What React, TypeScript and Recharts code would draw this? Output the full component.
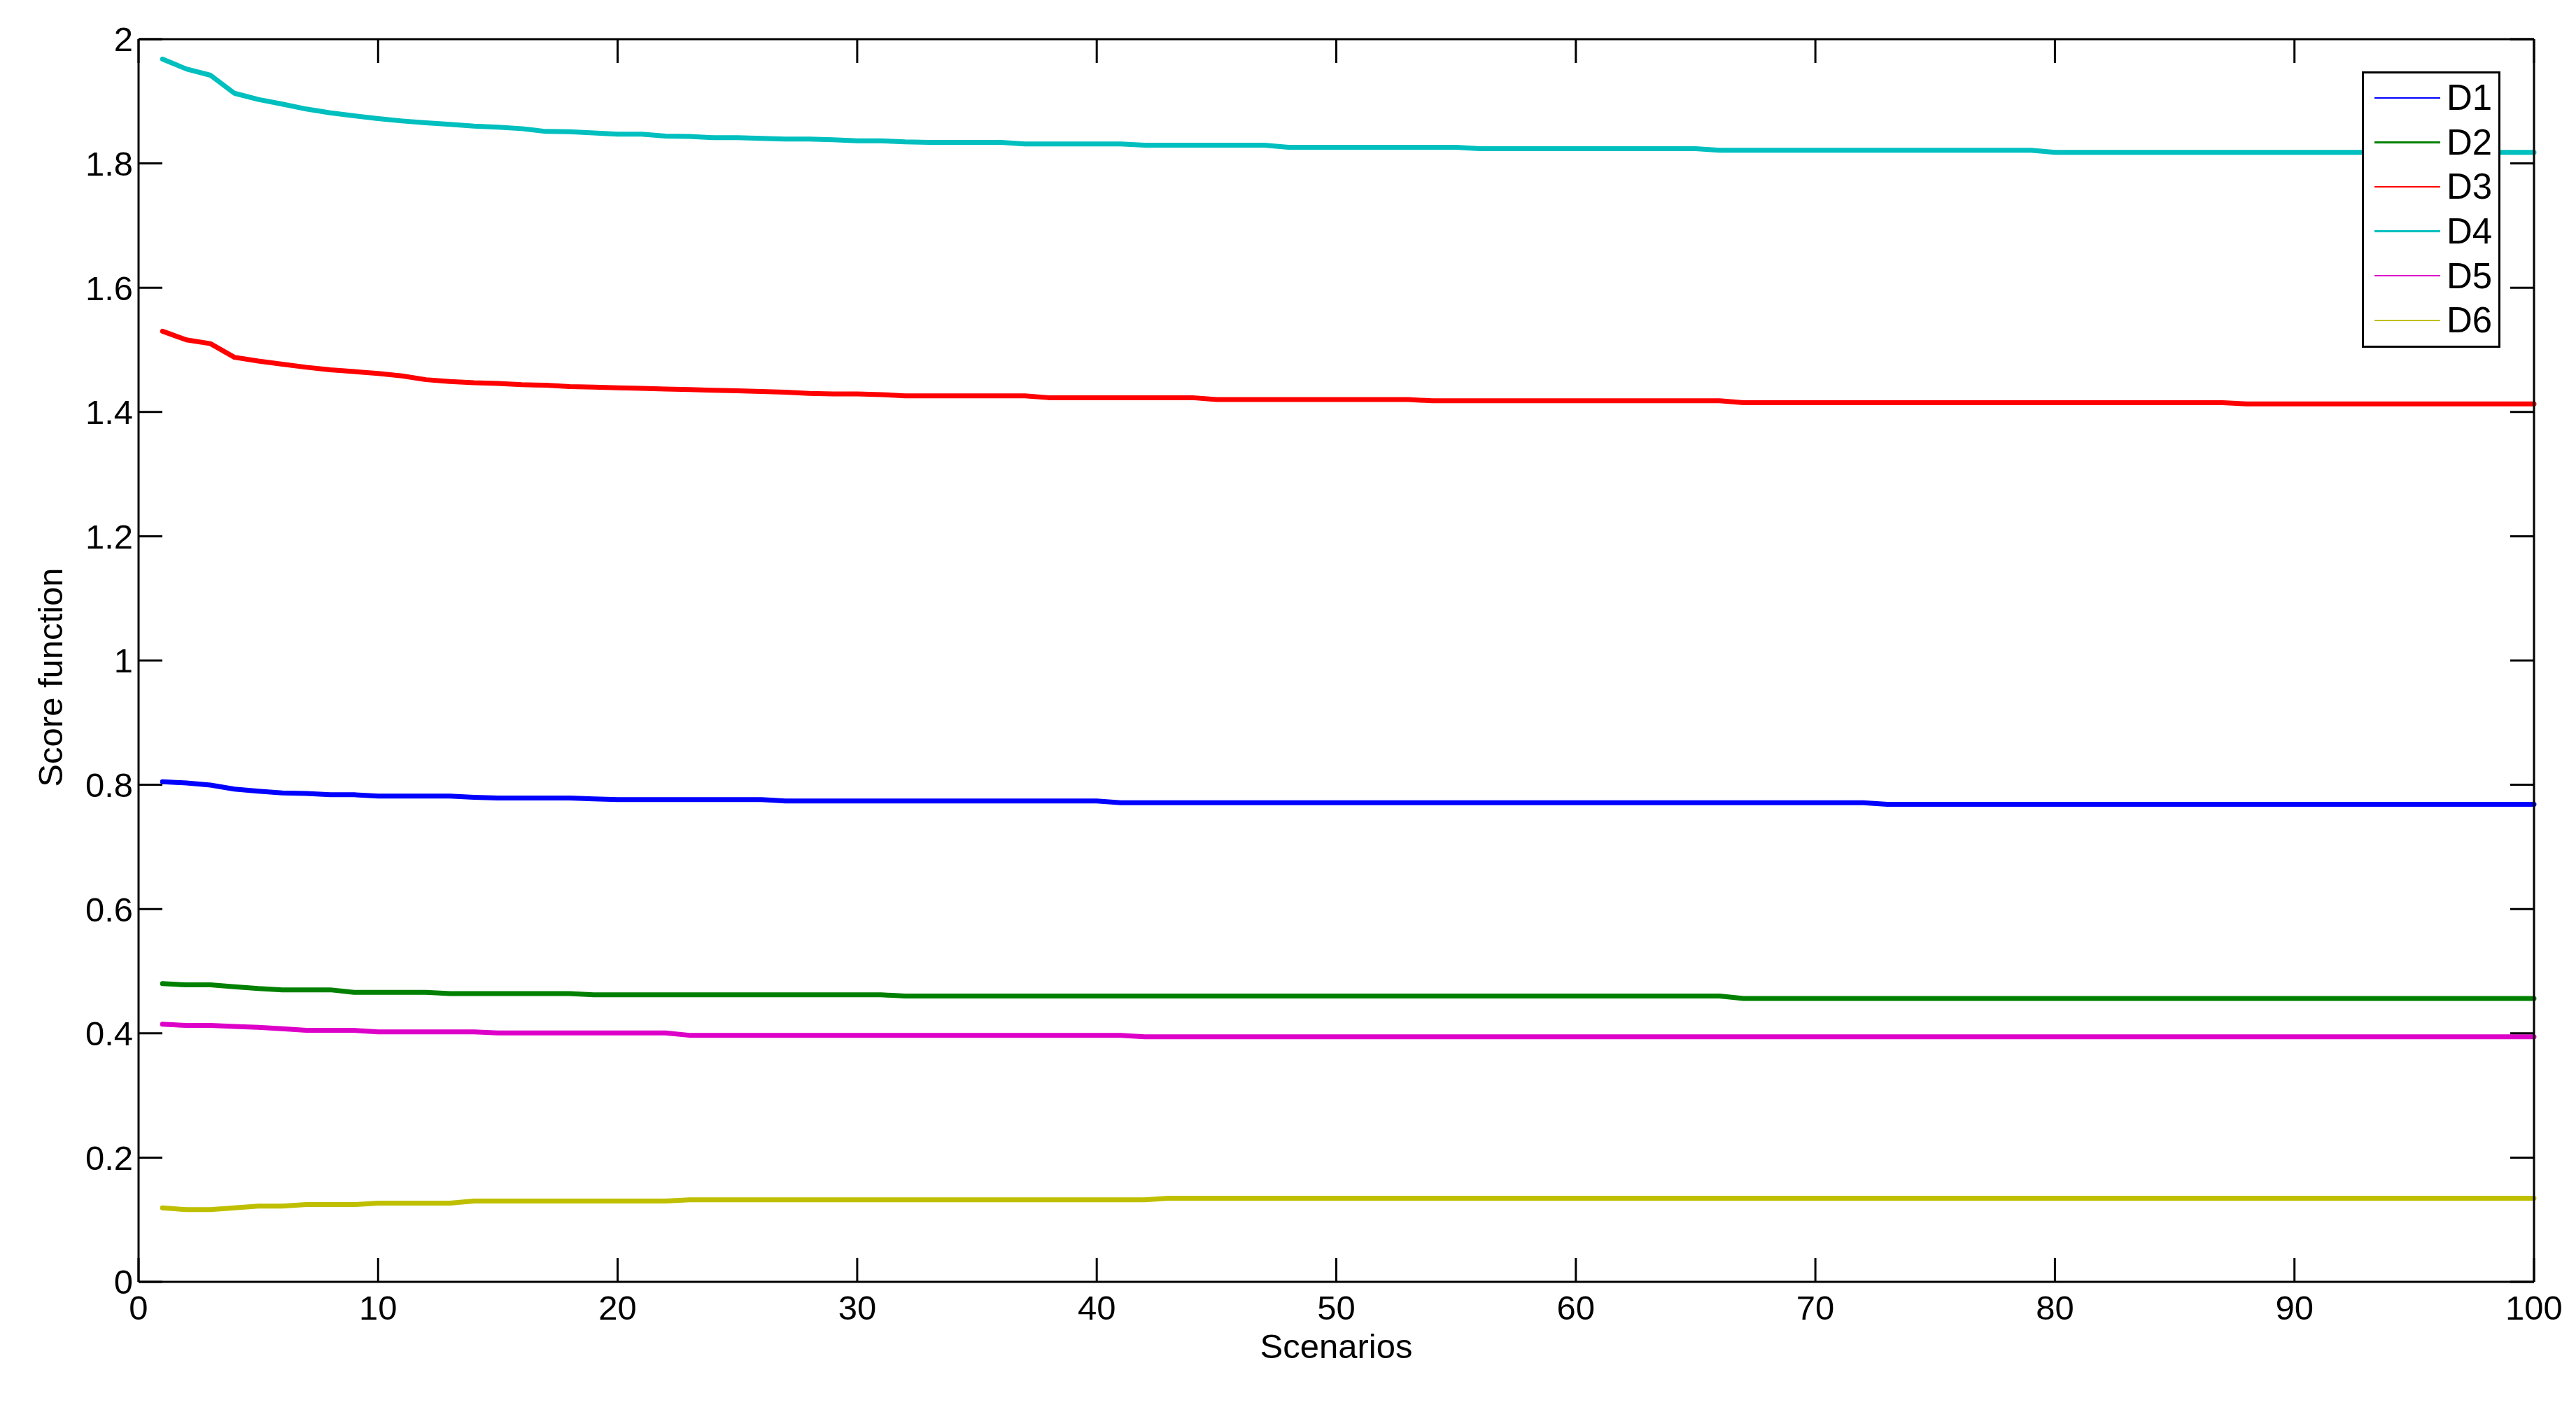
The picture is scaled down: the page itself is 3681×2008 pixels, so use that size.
import React from "react";
import { LineChart, Line, XAxis, YAxis, Legend } from "recharts";

const scenarios = Array.from({ length: 100 }, (_, i) => i + 1);

const seriesNames = ["D1", "D2", "D3", "D4", "D5", "D6"];
const seriesColors = ["#0000FF", "#008000", "#FF0000", "#00BFBF", "#DD00C8", "#BFBF00"];

const d1 = [
  0.805, 0.803, 0.7995, 0.793, 0.7896, 0.787, 0.786, 0.784, 0.784, 0.7817,
  0.7817, 0.7817, 0.7817, 0.7798, 0.7787, 0.7787, 0.7787, 0.7787, 0.7772, 0.7761,
  0.7761, 0.7761, 0.7761, 0.7761, 0.7761, 0.7761, 0.7739, 0.7739, 0.7739, 0.7739,
  0.7739, 0.7739, 0.7739, 0.7739, 0.7739, 0.7739, 0.7739, 0.7739, 0.7739, 0.7739,
  0.7712, 0.7712, 0.7712, 0.7712, 0.7712, 0.7712, 0.7712, 0.7712, 0.7712, 0.7712,
  0.7712, 0.7712, 0.7712, 0.7712, 0.7712, 0.7712, 0.7712, 0.7712, 0.7712, 0.7712,
  0.7712, 0.7712, 0.7712, 0.7712, 0.7712, 0.7712, 0.7712, 0.7712, 0.7712, 0.7712,
  0.7712, 0.7712, 0.7686, 0.7686, 0.7686, 0.7686, 0.7686, 0.7686, 0.7686, 0.7686,
  0.7686, 0.7686, 0.7686, 0.7686, 0.7686, 0.7686, 0.7686, 0.7686, 0.7686, 0.7686,
  0.7686, 0.7686, 0.7686, 0.7686, 0.7686, 0.7686, 0.7686, 0.7686, 0.7686, 0.7686,
];

const d2 = [
  0.48, 0.478, 0.478, 0.475, 0.472, 0.47, 0.47, 0.47, 0.466, 0.466,
  0.466, 0.466, 0.464, 0.464, 0.464, 0.464, 0.464, 0.464, 0.462, 0.462,
  0.462, 0.462, 0.462, 0.462, 0.462, 0.462, 0.462, 0.462, 0.462, 0.462,
  0.462, 0.46, 0.46, 0.46, 0.46, 0.46, 0.46, 0.46, 0.46, 0.46,
  0.46, 0.46, 0.46, 0.46, 0.46, 0.46, 0.46, 0.46, 0.46, 0.46,
  0.46, 0.46, 0.46, 0.46, 0.46, 0.46, 0.46, 0.46, 0.46, 0.46,
  0.46, 0.46, 0.46, 0.46, 0.46, 0.46, 0.456, 0.456, 0.456, 0.456,
  0.456, 0.456, 0.456, 0.456, 0.456, 0.456, 0.456, 0.456, 0.456, 0.456,
  0.456, 0.456, 0.456, 0.456, 0.456, 0.456, 0.456, 0.456, 0.456, 0.456,
  0.456, 0.456, 0.456, 0.456, 0.456, 0.456, 0.456, 0.456, 0.456, 0.456,
];

const d3 = [
  1.53, 1.516, 1.51, 1.488, 1.482, 1.477, 1.472, 1.468, 1.465, 1.462,
  1.458, 1.452, 1.449, 1.447, 1.446, 1.444, 1.443, 1.441, 1.44, 1.439,
  1.438, 1.437, 1.436, 1.435, 1.434, 1.433, 1.432, 1.43, 1.429, 1.429,
  1.428, 1.426, 1.426, 1.426, 1.426, 1.426, 1.426, 1.423, 1.423, 1.423,
  1.423, 1.423, 1.423, 1.423, 1.42, 1.42, 1.42, 1.42, 1.42, 1.42,
  1.42, 1.42, 1.42, 1.418, 1.418, 1.418, 1.418, 1.418, 1.418, 1.418,
  1.418, 1.418, 1.418, 1.418, 1.418, 1.418, 1.415, 1.415, 1.415, 1.415,
  1.415, 1.415, 1.415, 1.415, 1.415, 1.415, 1.415, 1.415, 1.415, 1.415,
  1.415, 1.415, 1.415, 1.415, 1.415, 1.415, 1.415, 1.413, 1.413, 1.413,
  1.413, 1.413, 1.413, 1.413, 1.413, 1.413, 1.413, 1.413, 1.413, 1.413,
];

const d4 = [
  1.968, 1.952, 1.942, 1.913, 1.903, 1.8955, 1.8876, 1.8815, 1.8767, 1.8722,
  1.8684, 1.8654, 1.8628, 1.8601, 1.8583, 1.856, 1.8515, 1.851, 1.849, 1.847,
  1.847, 1.844, 1.8435, 1.8415, 1.8415, 1.8403, 1.8392, 1.8392, 1.838, 1.8365,
  1.8365, 1.8347, 1.8339, 1.8339, 1.8339, 1.8339, 1.8313, 1.8313, 1.8313, 1.8313,
  1.8313, 1.8294, 1.8294, 1.8294, 1.8294, 1.8294, 1.8294, 1.826, 1.826, 1.826,
  1.826, 1.826, 1.826, 1.826, 1.826, 1.8238, 1.8238, 1.8238, 1.8238, 1.8238,
  1.8238, 1.8238, 1.8238, 1.8238, 1.8238, 1.8212, 1.8212, 1.8212, 1.8212, 1.8212,
  1.8212, 1.8212, 1.8212, 1.8212, 1.8212, 1.8212, 1.8212, 1.8212, 1.8212, 1.8178,
  1.8178, 1.8178, 1.8178, 1.8178, 1.8178, 1.8178, 1.8178, 1.8178, 1.8178, 1.8178,
  1.8178, 1.8178, 1.8178, 1.8178, 1.8178, 1.8178, 1.8178, 1.8178, 1.8178, 1.8178,
];

const d5 = [
  0.4146, 0.4127, 0.4127, 0.411, 0.4097, 0.4074, 0.4048, 0.4048, 0.4048, 0.4022,
  0.4022, 0.4022, 0.4022, 0.4022, 0.4007, 0.4007, 0.4007, 0.4007, 0.4007, 0.4007,
  0.4007, 0.4007, 0.3968, 0.3968, 0.3968, 0.3968, 0.3968, 0.3968, 0.3968, 0.3968,
  0.3968, 0.3968, 0.3968, 0.3968, 0.3968, 0.3968, 0.3968, 0.3968, 0.3968, 0.3968,
  0.3968, 0.3944, 0.3944, 0.3944, 0.3944, 0.3944, 0.3944, 0.3944, 0.3944, 0.3944,
  0.3944, 0.3944, 0.3944, 0.3944, 0.3944, 0.3944, 0.3944, 0.3944, 0.3944, 0.3944,
  0.3944, 0.3944, 0.3944, 0.3944, 0.3944, 0.3944, 0.3944, 0.3944, 0.3944, 0.3944,
  0.3944, 0.3944, 0.3944, 0.3944, 0.3944, 0.3944, 0.3944, 0.3944, 0.3944, 0.3944,
  0.3944, 0.3944, 0.3944, 0.3944, 0.3944, 0.3944, 0.3944, 0.3944, 0.3944, 0.3944,
  0.3944, 0.3944, 0.3944, 0.3944, 0.3944, 0.3944, 0.3944, 0.3944, 0.3944, 0.3944,
];

const d6 = [
  0.119, 0.1162, 0.1162, 0.119, 0.1218, 0.1218, 0.1244, 0.1244, 0.1244, 0.1267,
  0.1267, 0.1267, 0.1267, 0.13, 0.13, 0.13, 0.13, 0.13, 0.13, 0.13,
  0.13, 0.13, 0.132, 0.132, 0.132, 0.132, 0.132, 0.132, 0.132, 0.132,
  0.132, 0.132, 0.132, 0.132, 0.132, 0.132, 0.132, 0.132, 0.132, 0.132,
  0.132, 0.132, 0.1346, 0.1346, 0.1346, 0.1346, 0.1346, 0.1346, 0.1346, 0.1346,
  0.1346, 0.1346, 0.1346, 0.1346, 0.1346, 0.1346, 0.1346, 0.1346, 0.1346, 0.1346,
  0.1346, 0.1346, 0.1346, 0.1346, 0.1346, 0.1346, 0.1346, 0.1346, 0.1346, 0.1346,
  0.1346, 0.1346, 0.1346, 0.1346, 0.1346, 0.1346, 0.1346, 0.1346, 0.1346, 0.1346,
  0.1346, 0.1346, 0.1346, 0.1346, 0.1346, 0.1346, 0.1346, 0.1346, 0.1346, 0.1346,
  0.1346, 0.1346, 0.1346, 0.1346, 0.1346, 0.1346, 0.1346, 0.1346, 0.1346, 0.1346,
];

const xTicks = [0, 10, 20, 30, 40, 50, 60, 70, 80, 90, 100];
const yTicks = [0, 0.2, 0.4, 0.6, 0.8, 1, 1.2, 1.4, 1.6, 1.8, 2];
const xLabel = "Scenarios";
const yLabel = "Score function";

const seriesValues = [d1, d2, d3, d4, d5, d6];
const data = scenarios.map((x, i) => {
  const row: Record<string, number> = { x };
  seriesNames.forEach((n, k) => {
    row[n] = seriesValues[k][i];
  });
  return row;
});

const FONT = "'Liberation Sans', Arial, Helvetica, sans-serif";
const FS = 49;
const W = 3681;
const H = 2008;

function EmptyTick() {
  return <g />;
}

function LegendBox(props: any) {
  const payload = (props.payload || []).filter((p: any) => p.type !== "none");
  return (
    <div
      style={{
        boxSizing: "border-box",
        width: 198,
        height: 395,
        border: "3px solid #000",
        background: "#fff",
        paddingTop: 3,
      }}
    >
      {payload.map((e: any) => (
        <div key={e.value} style={{ height: 63.6, display: "flex", alignItems: "center" }}>
          <div style={{ marginLeft: 15, width: 94, height: 2.5, background: e.color }} />
          <span
            style={{
              marginLeft: 9,
              fontFamily: FONT,
              fontSize: 51,
              lineHeight: 1,
              color: "#000",
            }}
          >
            {e.value}
          </span>
        </div>
      ))}
    </div>
  );
}

function YLabelContent(props: any) {
  const vb = props.viewBox || { x: 0, y: 0, width: 0, height: 0 };
  const cx = vb.x + 89;
  const cy = vb.y + vb.height / 2 + 24;
  return (
    <text
      transform={`translate(${cx},${cy}) rotate(-90)`}
      textAnchor="middle"
      fontFamily={FONT}
      fontSize={FS}
      fill="#000"
    >
      {yLabel}
    </text>
  );
}

function XLabelContent(props: any) {
  const vb = props.viewBox || { x: 0, y: 0, width: 0, height: 0 };
  return (
    <text
      x={vb.x + vb.width / 2}
      y={vb.y + 109}
      textAnchor="middle"
      fontFamily={FONT}
      fontSize={FS}
      fill="#000"
    >
      {xLabel}
    </text>
  );
}

export default function App() {
  const tickStyle = { fill: "#000", fontSize: FS, fontFamily: FONT };
  return (
    <div style={{ position: "absolute", left: 0, top: 0, width: W, height: H, background: "#fff" }}>
      <LineChart width={W} height={H} data={data} margin={{ top: 55, right: 59, left: 0, bottom: 0 }}>
        <XAxis
          xAxisId="b"
          dataKey="x"
          type="number"
          domain={[0, 100]}
          ticks={xTicks}
          interval={0}
          height={176}
          tickSize={-34}
          tickMargin={53}
          tick={tickStyle}
          axisLine={{ stroke: "#000", strokeWidth: 3 }}
          tickLine={{ stroke: "#000", strokeWidth: 3 }}
          label={<XLabelContent />}
        />
        <XAxis
          xAxisId="t"
          orientation="top"
          dataKey="x"
          type="number"
          domain={[0, 100]}
          ticks={xTicks}
          interval={0}
          height={1}
          tickSize={-34}
          tick={<EmptyTick />}
          axisLine={{ stroke: "#000", strokeWidth: 3 }}
          tickLine={{ stroke: "#000", strokeWidth: 3 }}
        />
        <YAxis
          yAxisId="l"
          type="number"
          domain={[0, 2]}
          ticks={yTicks}
          interval={0}
          width={198}
          tickSize={-34}
          tickMargin={42}
          tick={tickStyle}
          axisLine={{ stroke: "#000", strokeWidth: 3 }}
          tickLine={{ stroke: "#000", strokeWidth: 3 }}
          label={<YLabelContent />}
        />
        <YAxis
          yAxisId="r"
          orientation="right"
          type="number"
          domain={[0, 2]}
          ticks={yTicks}
          interval={0}
          width={1}
          tickSize={-34}
          tick={<EmptyTick />}
          axisLine={{ stroke: "#000", strokeWidth: 3 }}
          tickLine={{ stroke: "#000", strokeWidth: 3 }}
        />
        <Legend
          layout="vertical"
          align="center"
          verticalAlign="middle"
          wrapperStyle={{ left: 3375, top: 102, width: 198, height: 395 }}
          content={<LegendBox />}
        />
        <Line
          xAxisId="t"
          yAxisId="r"
          dataKey="D1"
          stroke="transparent"
          strokeWidth={0}
          dot={false}
          activeDot={false}
          legendType="none"
          isAnimationActive={false}
        />
        {seriesNames.map((n, k) => (
          <Line
            key={n}
            xAxisId="b"
            yAxisId="l"
            type="linear"
            dataKey={n}
            name={n}
            stroke={seriesColors[k]}
            strokeWidth={7}
            strokeLinecap="round"
            strokeLinejoin="round"
            dot={false}
            activeDot={false}
            isAnimationActive={false}
          />
        ))}
      </LineChart>
    </div>
  );
}
